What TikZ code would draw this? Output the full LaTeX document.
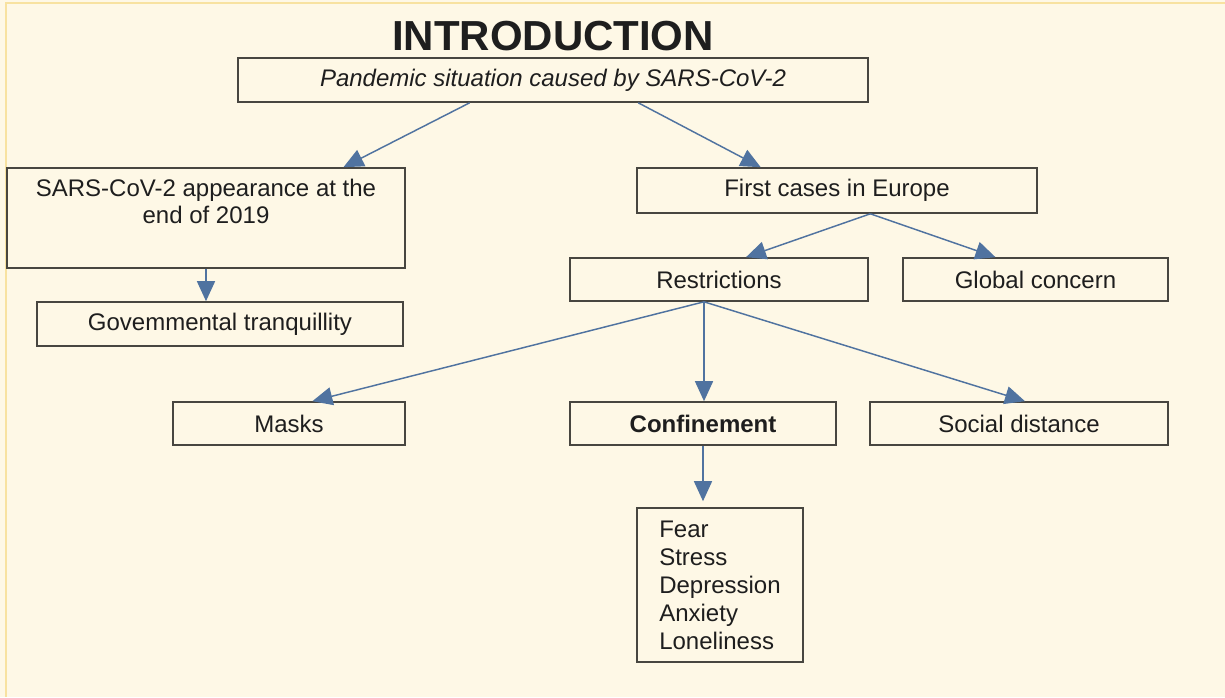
\documentclass[tikz,border=0pt]{standalone}
\usepackage{fontspec}
\setmainfont{Liberation Sans}
\usetikzlibrary{arrows.meta,calc}
\definecolor{bgcream}{RGB}{254,248,230}
\definecolor{edgeyellow}{RGB}{248,226,160}
\definecolor{boxline}{RGB}{72,70,64}
\definecolor{arrowblue}{RGB}{80,115,160}
\definecolor{textdark}{RGB}{30,30,30}

\begin{document}
\begin{tikzpicture}[x=0.75pt,y=0.75pt,yscale=-1,xscale=1,
  box/.style={draw=boxline, line width=1.2pt, inner sep=0pt, text=textdark, font=\fontsize{18}{21}\selectfont},
  link/.style={draw=arrowblue, line width=1.1pt, -{Triangle[length=15pt,width=13.5pt]}}]
\useasboundingbox (0,0) rectangle (1225,697);
%Background
\fill [bgcream] (0,0) rectangle (1225,697);
\draw [edgeyellow, line width=2pt] (6,697) -- (6,3) -- (1225,3);

% Title
\node [anchor=base, text=textdark, font=\fontsize{31.5}{36}\selectfont\bfseries] (title) at (553,50) {INTRODUCTION};

% Boxes
\node [box, minimum width=472.5pt, minimum height=33pt] (pandemic) at (553,80) {\itshape Pandemic situation caused by SARS-CoV-2};
\node [box, minimum width=298.5pt, minimum height=75pt] (sars) at (206,218) {};
\node [anchor=north, inner sep=9pt, align=center, text=textdark, font=\fontsize{18}{20}\selectfont] (sarstext) at (sars.north) {SARS-CoV-2 appearance at the\\end of 2019};
\node [box, minimum width=274.5pt, minimum height=33pt] (gov) at (220,324) {Govemmental tranquillity};
\node [box, minimum width=300pt, minimum height=33.75pt] (first) at (837,190.5) {First cases in Europe};
\node [box, minimum width=223.5pt, minimum height=32.25pt] (restr) at (719,279.5) {Restrictions};
\node [box, minimum width=198.75pt, minimum height=32.25pt] (global) at (1035.5,279.5) {Global concern};
\node [box, minimum width=174pt, minimum height=32.25pt] (masks) at (289,423.5) {Masks};
\node [box, minimum width=199.5pt, minimum height=32.25pt] (conf) at (703,423.5) {\bfseries Confinement};
\node [box, minimum width=223.5pt, minimum height=32.25pt] (social) at (1019,423.5) {Social distance};
\node [box, minimum width=124.5pt, minimum height=115.5pt, align=left] (emo) at (720,585) {Fear\\Stress\\Depression\\Anxiety\\Loneliness};

% Arrows
\coordinate (pandout1) at ($(pandemic.south west)!0.368!(pandemic.south east)$);
\coordinate (pandout2) at ($(pandemic.south west)!0.635!(pandemic.south east)$);
\coordinate (firstout) at ($(first.south west)!0.583!(first.south east)$);
\coordinate (restrout) at ($(restr.south west)!0.45!(restr.south east)$);
\draw [link] (pandout1) -- ($(sars.north west)!0.844!(sars.north east)$);
\draw [link] (pandout2) -- ($(first.north west)!0.31!(first.north east)$);
\draw [link] (sars.south) -- (sars.south |- gov.north);
\draw [link] (firstout) -- ($(restr.north west)!0.59!(restr.north east)$);
\draw [link] (firstout) -- ($(global.north west)!0.35!(global.north east)$);
\draw [link] (restrout) -- ($(masks.north west)!0.6!(masks.north east)$);
\draw [link] (restrout) -- (restrout |- conf.north);
\draw [link] (restrout) -- ($(social.north west)!0.52!(social.north east)$);
\draw [link, shorten >=4.5pt] (conf.south) -- (conf.south |- emo.north);
\end{tikzpicture}
\end{document}
